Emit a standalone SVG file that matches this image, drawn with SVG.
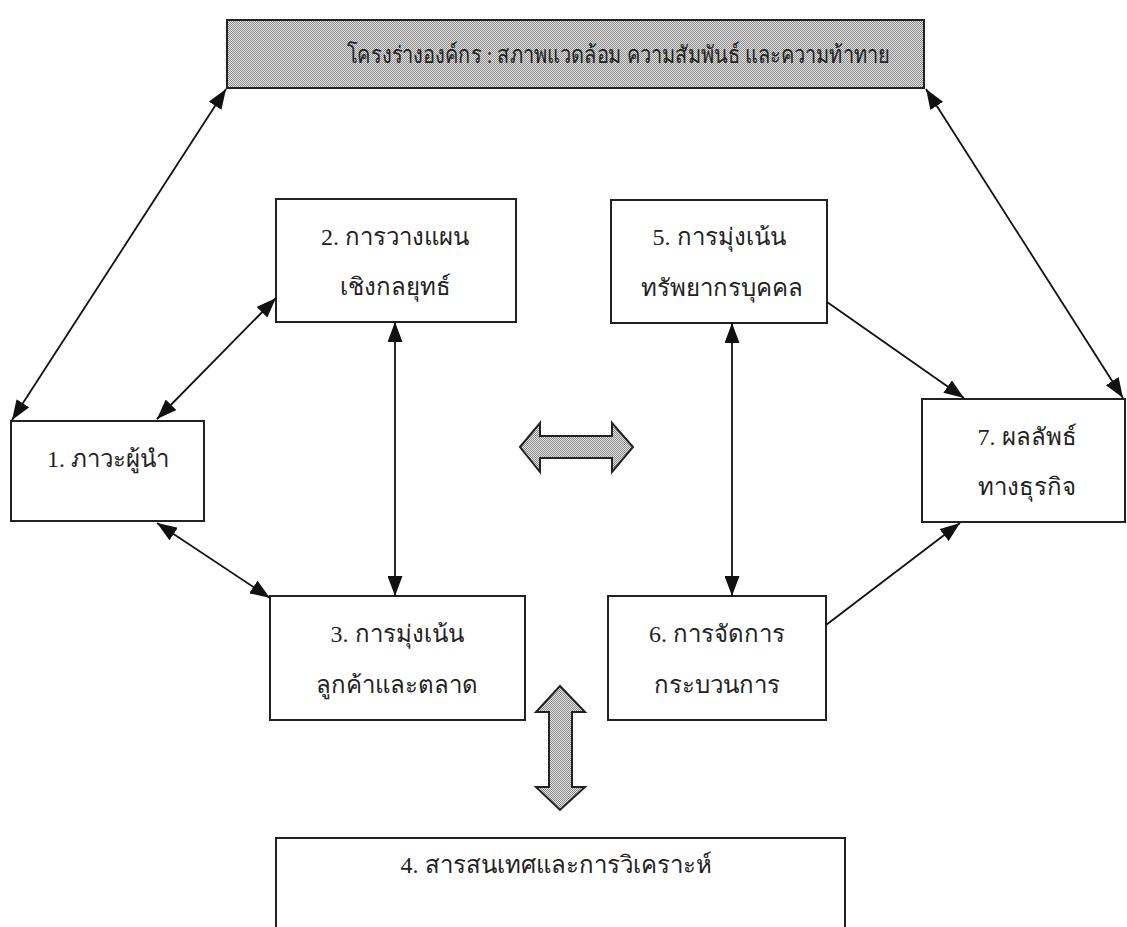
<svg xmlns="http://www.w3.org/2000/svg" width="1127" height="927" viewBox="0 0 1127 927">
<style>
.box{fill:#fff;stroke:#222;stroke-width:2}
.lbl{font-family:"Liberation Serif","Noto Sans",serif;font-size:24px;fill:#222;text-anchor:middle}
.con{stroke:#111;stroke-width:1.8;fill:none;marker-start:url(#ah);marker-end:url(#ah)}
.one{stroke:#111;stroke-width:1.8;fill:none;marker-end:url(#ah)}
.big{fill:url(#dots);stroke:#222;stroke-width:2;stroke-linejoin:miter}
</style>
<defs>
<pattern id="dots" width="2" height="2" patternUnits="userSpaceOnUse">
<rect width="2" height="2" fill="#e4e4e4"/>
<rect width="1" height="1" fill="#8a8a8a"/>
<rect x="1" y="1" width="1" height="1" fill="#8a8a8a"/>
</pattern>
<marker id="ah" viewBox="0 0 20 15" refX="20" refY="7.5" markerWidth="20" markerHeight="15" markerUnits="userSpaceOnUse" orient="auto-start-reverse">
<path d="M0,0 L20,7.5 L0,15 z" fill="#111"/>
</marker>
</defs>

<g id="banner">
<rect x="227" y="20" width="697" height="68" fill="url(#dots)" stroke="#222" stroke-width="2"/>
<text class="lbl" x="618" y="63" font-size="27" textLength="543" lengthAdjust="spacingAndGlyphs">โครงร่างองค์กร : สภาพแวดล้อม ความสัมพันธ์ และความท้าทาย</text>
</g>

<g id="node1">
<rect class="box" x="11" y="421" width="193" height="100"/>
<text class="lbl" x="108" y="467">1. ภาวะผู้นำ</text>
</g>

<g id="node2">
<rect class="box" x="276" y="199" width="240" height="123"/>
<text class="lbl" x="395" y="245">2. การวางแผน</text>
<text class="lbl" x="395" y="295">เชิงกลยุทธ์</text>
</g>

<g id="node3">
<rect class="box" x="270" y="596" width="255" height="124"/>
<text class="lbl" x="397" y="642">3. การมุ่งเน้น</text>
<text class="lbl" x="397" y="693">ลูกค้าและตลาด</text>
</g>

<g id="node5">
<rect class="box" x="611" y="200" width="216" height="123"/>
<text class="lbl" x="719" y="245">5. การมุ่งเน้น</text>
<text class="lbl" x="722" y="296">ทรัพยากรบุคคล</text>
</g>

<g id="node6">
<rect class="box" x="608" y="596" width="218" height="124"/>
<text class="lbl" x="717" y="642">6. การจัดการ</text>
<text class="lbl" x="717" y="693">กระบวนการ</text>
</g>

<g id="node7">
<rect class="box" x="922" y="399" width="203" height="123"/>
<text class="lbl" x="1027" y="445">7. ผลลัพธ์</text>
<text class="lbl" x="1027" y="495">ทางธุรกิจ</text>
</g>

<g id="node4">
<rect class="box" x="276" y="838" width="569" height="100"/>
<text class="lbl" x="556" y="873">4. สารสนเทศและการวิเคราะห์</text>
</g>

<g id="connectors">
<line class="con" x1="226" y1="89" x2="12" y2="420"/>
<line class="con" x1="926" y1="89" x2="1123" y2="398"/>
<line class="con" x1="157" y1="419" x2="276" y2="298"/>
<line class="con" x1="157" y1="523" x2="270" y2="598"/>
<line class="con" x1="395" y1="322" x2="395" y2="596"/>
<line class="con" x1="732" y1="323" x2="732" y2="596"/>
<line class="one" x1="827" y1="302" x2="964" y2="398"/>
<line class="one" x1="826" y1="625" x2="960" y2="523"/>
<path class="big" d="M520,447 L540,423 L540,436 L612,436 L612,423 L633,447 L612,472 L612,458 L540,458 L540,472 Z"/>
<path class="big" d="M560,686 L585,712 L572,712 L572,787 L585,787 L560,810 L536,787 L549,787 L549,712 L536,712 Z"/>
</g>
</svg>
